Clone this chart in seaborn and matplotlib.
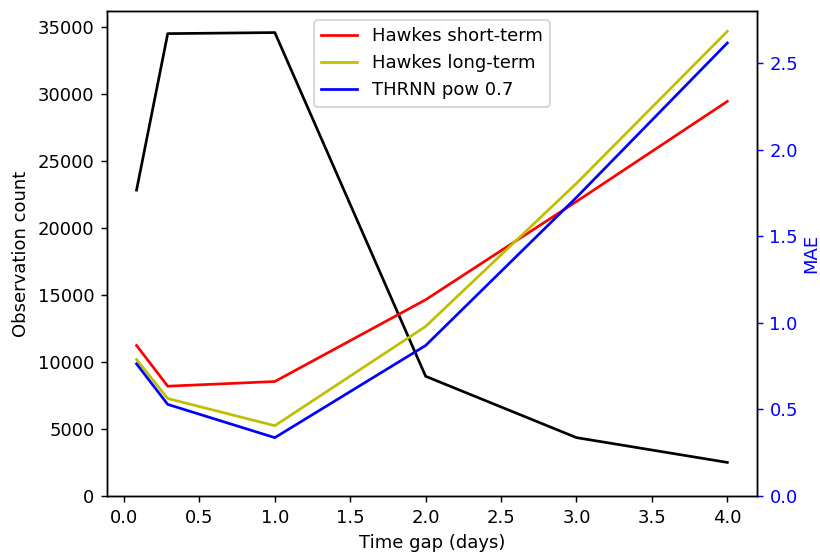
import pandas as pd
import matplotlib
matplotlib.use("Agg")
import matplotlib.pyplot as plt
import seaborn as sns

# time gaps in days
time_gap = [1 / 12, 0.29, 1.0, 2.0, 3.0, 4.0]

# number of observations per gap (left axis)
obs_count = [22840, 34520, 34600, 8940, 4360, 2510]

# MAE per model (right axis)
mae_short = [0.869, 0.634, 0.661, 1.133, 1.700, 2.278]
mae_long = [0.788, 0.563, 0.406, 0.979, 1.805, 2.682]
mae_thrnn = [0.763, 0.529, 0.337, 0.869, 1.724, 2.615]

model_names = ["Hawkes short-term", "Hawkes long-term", "THRNN pow 0.7"]
model_colors = ["r", "y", "b"]


def build_frames():
    counts = pd.DataFrame({"gap": time_gap, "count": obs_count})
    parts = []
    for name, vals in zip(model_names, [mae_short, mae_long, mae_thrnn]):
        parts.append(pd.DataFrame({"gap": time_gap, "mae": vals, "model": name}))
    errors = pd.concat(parts, ignore_index=True)
    return counts, errors


def main():
    plt.style.use("default")
    plt.rcParams["font.size"] = 10

    counts, errors = build_frames()

    fig, ax = plt.subplots(figsize=(820 / 130, 553 / 130), dpi=130)
    fig.subplots_adjust(left=0.1305, right=0.923, top=0.980, bottom=0.103)

    sns.lineplot(data=counts, x="gap", y="count", color="k", ax=ax)
    ax.set_ylim(bottom=0)
    ax.set_xlabel("Time gap (days)")
    ax.set_ylabel("Observation count")

    ax2 = ax.twinx()
    sns.lineplot(data=errors, x="gap", y="mae", hue="model",
                 palette=dict(zip(model_names, model_colors)), ax=ax2)
    ax2.set_ylim(bottom=0)
    ax2.set_ylabel("MAE", color="b", labelpad=2)
    ax2.tick_params(axis="y", colors="b")
    ax2.legend(loc="upper center", title=None)

    fig.savefig("out.png", dpi=130)
    plt.close(fig)


if __name__ == "__main__":
    main()
